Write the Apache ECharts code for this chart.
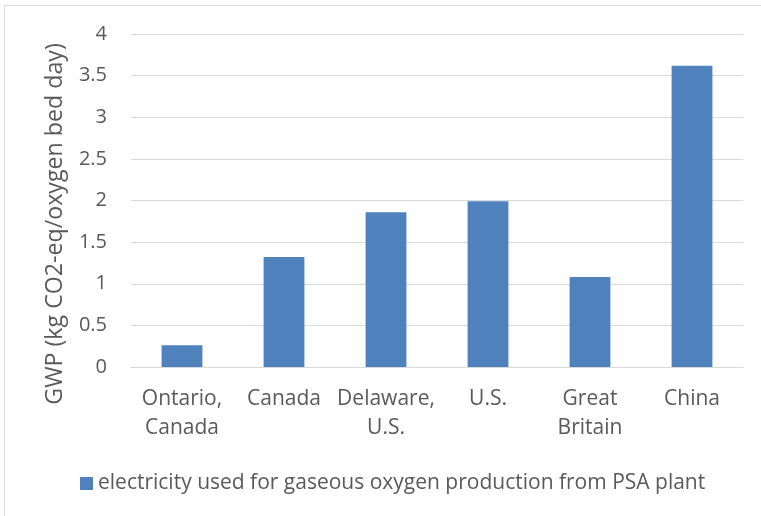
<!DOCTYPE html>
<html>
<head>
<meta charset="utf-8">
<script src="https://cdn.jsdelivr.net/npm/echarts@6/dist/echarts.min.js"></script>
<style>
  html, body { margin: 0; padding: 0; background: #fff; }
  #frame { position: absolute; left: 4px; top: 5px; width: 800px; height: 600px; border-left: 1px solid #d9d9d9; border-top: 1px solid #d9d9d9; pointer-events: none; }
  #chart { position: absolute; left: 0; top: 0; width: 761px; height: 516px; }
</style>
</head>
<body>
<div id="chart"></div>
<div id="frame"></div>
<script>
const categories = ["Ontario,\nCanada", "Canada", "Delaware,\nU.S.", "U.S.", "Great\nBritain", "China"];
const values = [0.26, 1.32, 1.86, 1.99, 1.08, 3.62];
const seriesName = "electricity used for gaseous oxygen production from PSA plant";
const yAxisTitle = "GWP (kg CO2-eq/oxygen bed day)";

const FONT = "Open Sans";
const TXT = "#595959";

// size the rotated axis title so its length matches the reference (~362px)
const cv = document.createElement('canvas').getContext('2d');
cv.font = '20px "Open Sans"';
const titleSize = Math.round(20 * 362 / cv.measureText(yAxisTitle).width * 10) / 10;

const chart = echarts.init(document.getElementById('chart'), null, { renderer: 'canvas' });
chart.setOption({
  animation: false,
  textStyle: { fontFamily: FONT },
  grid: { left: 131, right: 18, top: 34, bottom: 149, containLabel: false },
  legend: {
    left: 75, top: 468,
    itemWidth: 13, itemHeight: 13, itemGap: 10,
    icon: 'rect',
    textStyle: { fontFamily: FONT, fontSize: 21, color: TXT },
    data: [seriesName]
  },
  graphic: [{
    type: 'text',
    x: 55, y: 224,
    rotation: Math.PI / 2,
    style: {
      text: yAxisTitle,
      fill: TXT,
      font: titleSize + 'px "Open Sans"',
      align: 'center',
      verticalAlign: 'middle'
    }
  }],
  xAxis: {
    type: 'category',
    data: categories,
    axisLine: { show: true, lineStyle: { color: '#d9d9d9', width: 1 } },
    axisTick: { show: false },
    axisLabel: { color: TXT, fontFamily: FONT, fontSize: 21, margin: 17, lineHeight: 29.5, interval: 0 }
  },
  yAxis: {
    type: 'value',
    min: 0, max: 4, interval: 0.5,
    axisLine: { show: false },
    axisTick: { show: false },
    axisLabel: { color: TXT, fontFamily: FONT, fontSize: 20, margin: 24 },
    splitLine: { lineStyle: { color: '#d9d9d9', width: 1 } }
  },
  series: [{
    name: seriesName,
    type: 'bar',
    data: values,
    barCategoryGap: '60%',
    itemStyle: { color: '#4f81bd' }
  }]
});
</script>
</body>
</html>
